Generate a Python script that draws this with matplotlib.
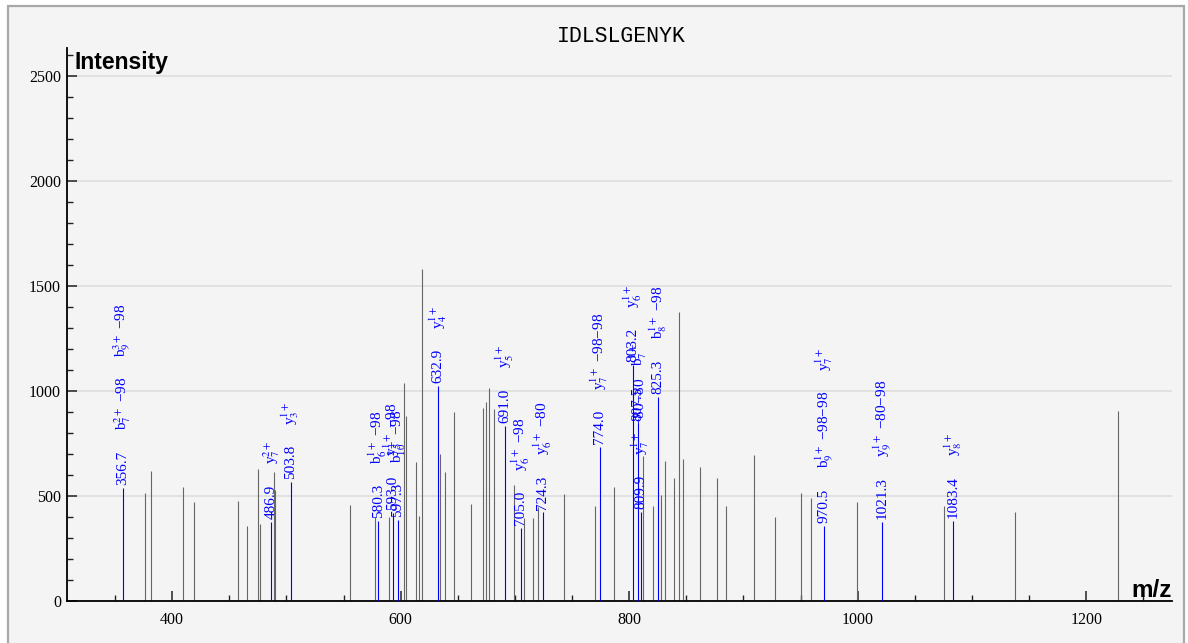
import matplotlib
matplotlib.use("Agg")
import matplotlib.pyplot as plt
from matplotlib.ticker import MultipleLocator
from matplotlib.patches import Rectangle

# ---------------- data ----------------
title = "IDLSLGENYK"

gray_mz = [376.2, 381.2, 409.5, 419.2, 457.4, 465.3, 475.2, 477.3, 489.0, 490.4,
           555.8, 577.2, 589.7, 602.6, 604.3, 613.4, 615.7, 618.9, 634.4, 639.1,
           646.6, 661.8, 672.0, 674.9, 677.0, 682.0, 698.9, 708.3, 715.5, 719.9,
           742.7, 770.2, 786.4, 811.9, 820.7, 827.6, 831.2, 839.3, 844.0, 846.9,
           861.8, 877.0, 884.3, 909.0, 927.5, 950.3, 959.1, 999.1, 1075.6, 1137.5,
           1227.5]
gray_int = [513, 617, 544, 470, 476, 359, 630, 365, 614, 529,
            457, 400, 401, 1037, 881, 660, 406, 1581, 700, 614,
            900, 460, 917, 949, 1012, 913, 552, 397, 397, 449,
            508, 452, 541, 690, 450, 505, 665, 587, 1378, 676,
            638, 587, 454, 697, 398, 513, 489, 470, 453, 422,
            905]

ann_mz = [356.7, 486.9, 503.8, 580.3, 593.0, 597.3, 632.9, 691.0, 705.0, 724.3,
          774.0, 803.2, 807.5, 809.9, 825.3, 970.5, 1021.3, 1083.4]
ann_int = [540, 378, 568, 380, 420, 385, 1024, 835, 349, 422,
           732, 1124, 846, 425, 973, 359, 375, 380]
ann_ions = [
    ["b$_{7}^{2+}$ \u221298", "b$_{9}^{3+}$ \u221298"],
    ["y$_{7}^{2+}$"],
    ["y$_{3}^{1+}$"],
    ["b$_{6}^{1+}$ \u221298"],
    ["y$_{5}^{1+}$ \u221298"],
    ["b$_{10}^{2+}$ \u221298"],
    ["y$_{4}^{1+}$"],
    ["y$_{5}^{1+}$"],
    ["y$_{6}^{1+}$ \u221298"],
    ["y$_{6}^{1+}$ \u221280"],
    ["y$_{7}^{1+}$ \u221298\u221298"],
    ["y$_{6}^{1+}$"],
    ["b$_{7}^{1+}$"],
    ["y$_{7}^{1+}$ \u221280\u221280"],
    ["b$_{8}^{1+}$ \u221298"],
    ["b$_{9}^{1+}$ \u221298\u221298", "y$_{7}^{1+}$"],
    ["y$_{9}^{1+}$ \u221280\u221298"],
    ["y$_{8}^{1+}$"],
]

# ---------------- style ----------------
plt.rcParams["font.family"] = ["Liberation Serif", "DejaVu Serif"]
plt.rcParams["mathtext.fontset"] = "stix"

W, H, DPI = 1188, 643, 100
fig = plt.figure(figsize=(W / DPI, H / DPI), dpi=DPI, facecolor="white")
bg = "#f4f4f4"
fig.patches.append(Rectangle((8 / W, -0.05), 1176 / W, (H - 6) / H + 0.05,
                             transform=fig.transFigure, facecolor=bg,
                             edgecolor="#a8a8a8", lw=1.6, zorder=-10))

ax = fig.add_axes([67 / W, 1 - 601 / H, (1172 - 67) / W, (601 - 48) / H])
ax.set_facecolor(bg)
ax.set_xlim(308, 1275)
ax.set_ylim(0, 2633)

ax.vlines(gray_mz, 0, gray_int, colors="#666666", lw=0.8, zorder=2)
ax.vlines(ann_mz, 0, ann_int, colors="#0000ff", lw=0.8, zorder=3)

gap_pt = 14.5
fs = 11
for mz, it, ions in zip(ann_mz, ann_int, ann_ions):
    prev = ax.annotate(f"{mz:.1f}", xy=(mz, it), xycoords="data",
                       xytext=(0, 2), textcoords="offset points",
                       rotation=90, ha="center", va="bottom",
                       color="#0000ff", fontsize=fs, zorder=4)
    for lab in ions:
        prev = ax.annotate(lab, xy=(0.5, 1.0), xycoords=prev,
                           xytext=(0, gap_pt), textcoords="offset points",
                           rotation=90, ha="center", va="bottom",
                           color="#0000ff", fontsize=fs, zorder=4)

# axes styling
for s in ["top", "right"]:
    ax.spines[s].set_visible(False)
for s in ["left", "bottom"]:
    ax.spines[s].set_color("black")
    ax.spines[s].set_linewidth(1.3)

ax.xaxis.set_major_locator(MultipleLocator(200))
ax.xaxis.set_minor_locator(MultipleLocator(50))
ax.yaxis.set_major_locator(MultipleLocator(500))
ax.yaxis.set_minor_locator(MultipleLocator(100))
ax.tick_params(axis="both", which="major", direction="in", length=7,
               width=1.1, color="#222222", labelsize=11.5)
ax.tick_params(axis="both", which="minor", direction="in", length=4.3,
               width=1.0, color="#222222")
ax.tick_params(axis="x", which="major", pad=8)
ax.tick_params(axis="y", which="major", pad=4.3)

ax.yaxis.grid(True, which="major", color="#dcdcdc", lw=1.1)
ax.xaxis.grid(False)
ax.set_axisbelow(True)

ax.text(0.007, 1 - 3 / 553, "Intensity", transform=ax.transAxes,
        ha="left", va="top", fontsize=16.5, fontweight="bold",
        family=["Liberation Sans", "DejaVu Sans"], zorder=5)
ax.text(1.0, 4 / 553, "m/z", transform=ax.transAxes,
        ha="right", va="baseline", fontsize=17.5, fontweight="bold",
        family=["Liberation Sans", "DejaVu Sans"], zorder=5)

fig.text(621 / W, 1 - 37 / H, title, ha="center", va="center",
         fontsize=15.5, family=["Liberation Mono", "DejaVu Sans Mono"])

fig.savefig("out.png", dpi=DPI, facecolor="white")
